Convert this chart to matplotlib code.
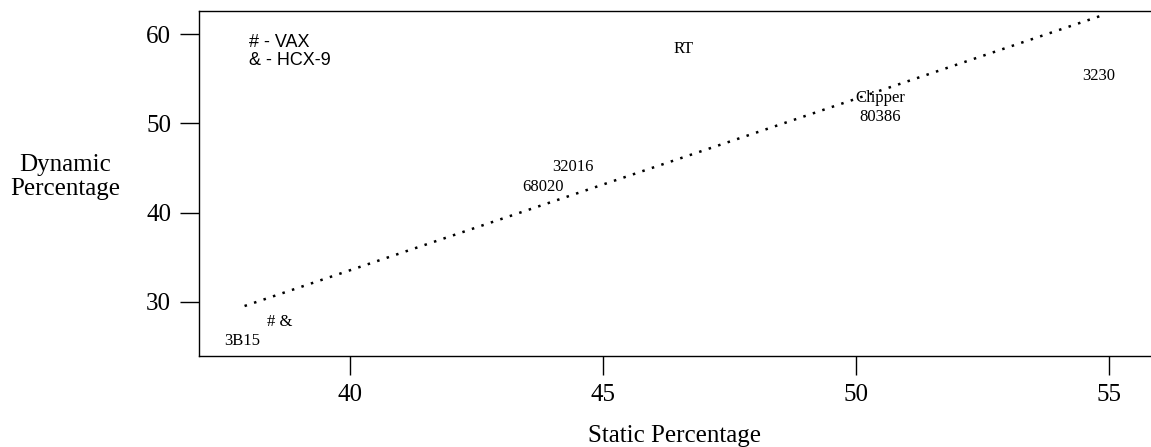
import matplotlib
matplotlib.use('Agg')
import matplotlib.pyplot as plt

# machine labels placed at (static %, dynamic %)
labels   = ['3B15', '# &', '68020', '32016', 'RT', 'Clipper', '80386', '3230']
static_x = [37.87, 38.62, 43.81, 44.41, 46.60, 50.49, 50.47, 54.80]
dynamic  = [25.6, 27.8, 42.9, 45.1, 58.3, 52.9, 50.7, 55.3]

# dotted trend line end points
fit_x = [37.92, 54.88]
fit_y = [29.55, 62.14]

xticks = [40, 45, 50, 55]
yticks = [30, 40, 50, 60]

serif = 'Liberation Serif'

fig = plt.figure(figsize=(11.51, 4.47), dpi=100)
ax = fig.add_axes([0.1729, 0.2036, 0.8271, 0.7718])

ax.plot(fit_x, fit_y, color='black', lw=1.8, linestyle=(0, (1, 3.0)))

for lbl, x, y in zip(labels, static_x, dynamic):
    ax.text(x, y, lbl, ha='center', va='center', fontsize=12,
            family=serif)

# key for the symbols
ax.text(38.0, 59.1, '# - VAX', ha='left', va='center', fontsize=13,
        family='Liberation Sans')
ax.text(38.0, 57.1, '& - HCX-9', ha='left', va='center', fontsize=13,
        family='Liberation Sans')

ax.set_xlim(37.02, 55.83)
ax.set_ylim(23.95, 62.6)
ax.set_xticks(xticks)
ax.set_yticks(yticks)
ax.tick_params(direction='out', length=14, width=1, pad=6, labelsize=18)
for t in ax.get_xticklabels() + ax.get_yticklabels():
    t.set_family(serif)

ax.spines['right'].set_visible(False)
for s in ['left', 'top', 'bottom']:
    ax.spines[s].set_linewidth(1.0)

ax.set_xlabel('Static Percentage', fontsize=18, family=serif, va='center')
ax.xaxis.set_label_coords(0.499, -0.232)
ax.set_ylabel('Dynamic\nPercentage', fontsize=18, family=serif,
              rotation=0, ha='center', va='center', linespacing=1.1)
ax.yaxis.set_label_coords(-0.1408, 0.519)

fig.savefig('out.png', dpi=100)
